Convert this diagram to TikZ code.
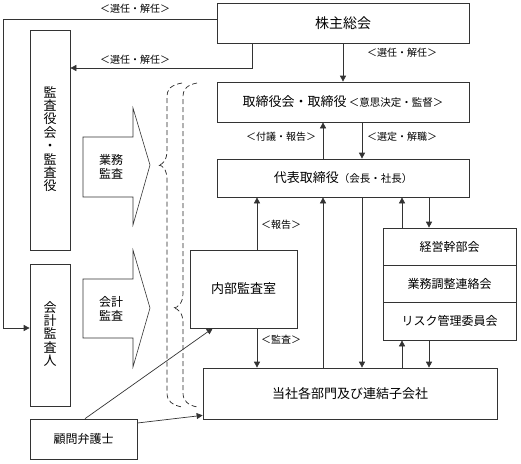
\documentclass[tikz,border=0pt]{standalone}
\usepackage{fontspec}
\setmainfont{Noto Sans CJK JP}
\usetikzlibrary{arrows.meta}
\definecolor{lc}{gray}{0.2}
\begin{document}
\begin{tikzpicture}[x=1pt,y=-1pt,
  box/.style={draw=lc, line width=.7pt, inner sep=0pt, font=\fontsize{13}{15}\selectfont},
  lbl/.style={inner sep=0pt, font=\fontsize{10}{12}\selectfont},
  arr/.style={draw=lc, line width=.7pt, -{Triangle[length=6pt,width=6pt]}},
  brace/.style={draw=black!85, line width=.7pt, dash pattern=on 5pt off 3pt},
  bigarrow/.style={draw=lc, line width=.6pt, fill=white},
  vtext/.style={align=center, font=\fontsize{13}{13.4}\selectfont, inner sep=0pt},
  small/.style={font=\fontsize{10.5}{12}\selectfont}
]
\useasboundingbox (0,0) rectangle (521,463);

% boxes
\node[box, minimum width=252pt, minimum height=40pt, font=\fontsize{14}{16}\selectfont] (sh) at (343,23) {株主総会};
\node[box, minimum width=252pt, minimum height=40pt] (bd) at (343,102) {取締役会・取締役\,{\fontsize{10.5}{12}\selectfont ＜意思決定・監督＞}};
\node[box, minimum width=252pt, minimum height=38pt] (rep) at (343,178) {代表取締役{\fontsize{10.5}{12}\selectfont （会長・社長）}};
\node[box, minimum width=40pt, minimum height=220pt] (kansa) at (50,140) {};
\node[vtext] (kansat) at (50,139) {監\\査\\役\\会\\・\\監\\査\\役};
\node[box, minimum width=40pt, minimum height=142pt] (kaikei) at (50,335) {};
\node[vtext] (kaikeit) at (50,334) {会\\計\\監\\査\\人};
\node[box, minimum width=107pt, minimum height=78pt] (naibu) at (243.5,289) {内部監査室};
\node[box, minimum width=133pt, minimum height=37.33pt, font=\fontsize{12}{14}\selectfont] (keiei) at (449.5,246.67) {経営幹部会};
\node[box, minimum width=133pt, minimum height=37.33pt, font=\fontsize{12}{14}\selectfont] (gyomu) at (449.5,284) {業務調整連絡会};
\node[box, minimum width=133pt, minimum height=37.33pt, font=\fontsize{12}{14}\selectfont] (risk) at (449.5,321.33) {リスク管理委員会};
\node[box, minimum width=294pt, minimum height=51pt] (tosha) at (350,393.5) {当社各部門及び連結子会社};
\node[box, minimum width=107pt, minimum height=40pt, font=\fontsize{12}{14}\selectfont] (komon) at (83.5,439) {顧問弁護士};

% big arrows
\draw[bigarrow] (83,137) -- (133,137) -- (133,108) -- (150,165) -- (133,225) -- (133,197) -- (83,197) -- cycle;
\node[align=center, inner sep=0pt, font=\fontsize{12}{13.5}\selectfont] (gyomukansa) at (111,167) {業務\\監査};
\draw[bigarrow] (83,279) -- (133,279) -- (133,250) -- (150,308) -- (133,367) -- (133,338) -- (83,338) -- cycle;
\node[align=center, inner sep=0pt, font=\fontsize{12}{13.5}\selectfont] (kaikeikansa) at (111,309) {会計\\監査};

% dashed braces
\draw[brace] (182,83) .. controls (171,85) and (167,89) .. (167,97) -- (167,150)
  .. controls (167,160) and (163,165) .. (158,165) .. controls (163,165) and (167,170) .. (167,180)
  -- (167,393) .. controls (167,401) and (172,405) .. (182,407);
\draw[brace] (197,83) .. controls (187,85) and (183,89) .. (183,97) -- (183,293)
  .. controls (183,303) and (178,308) .. (173,308) .. controls (178,308) and (183,313) .. (183,323)
  -- (183,393) .. controls (183,401) and (188,405) .. (197,407);

% helper coordinates
\coordinate (c257) at (257,0);
\coordinate (c323) at (323,0);
\coordinate (c362) at (362,0);
\coordinate (c402) at (402,0);
\coordinate (c429) at (429,0);
\coordinate (lc1) at (3,328);
\coordinate (lc2) at (252,68);

% connectors
\draw[arr] (sh.south) -- (bd.north);
\draw[arr] ([yshift=4pt]sh.west) -| (lc1) -- (kaikei.west |- lc1);
\draw[arr] (sh.south -| lc2) -- (lc2) -- (kansa.east |- lc2);
\draw[arr] (rep.north -| c323) -- (bd.south -| c323);
\draw[arr] (bd.south -| c362) -- (rep.north -| c362);
\draw[arr] (naibu.north -| c257) -- (rep.south -| c257);
\draw[arr] (tosha.north -| c323) -- (rep.south -| c323);
\draw[arr] (rep.south -| c362) -- (tosha.north -| c362);
\draw[arr] (keiei.north -| c402) -- (rep.south -| c402);
\draw[arr] (rep.south -| c429) -- (keiei.north -| c429);
\draw[arr] (tosha.north -| c402) -- (risk.south -| c402);
\draw[arr] (risk.south -| c429) -- (tosha.north -| c429);
\draw[arr] (naibu.south -| c257) -- (tosha.north -| c257);
\draw[arr] ([xshift=1.5pt]komon.north) -- ([xshift=23pt]naibu.south west);
\draw[arr] ([yshift=16pt]komon.east) -- ([yshift=4pt]tosha.south west);

% labels
\node[lbl] (l1) at (135,9) {＜選任・解任＞};
\node[lbl] (l2) at (135,60) {＜選任・解任＞};
\node[lbl] (l3) at (402,53) {＜選任・解任＞};
\node[lbl] (l4) at (281,137) {＜付議・報告＞};
\node[lbl] (l5) at (402,137) {＜選定・解職＞};
\node[lbl] (l6) at (281,225) {＜報告＞};
\node[lbl] (l7) at (281,340) {＜監査＞};
\end{tikzpicture}
\end{document}
